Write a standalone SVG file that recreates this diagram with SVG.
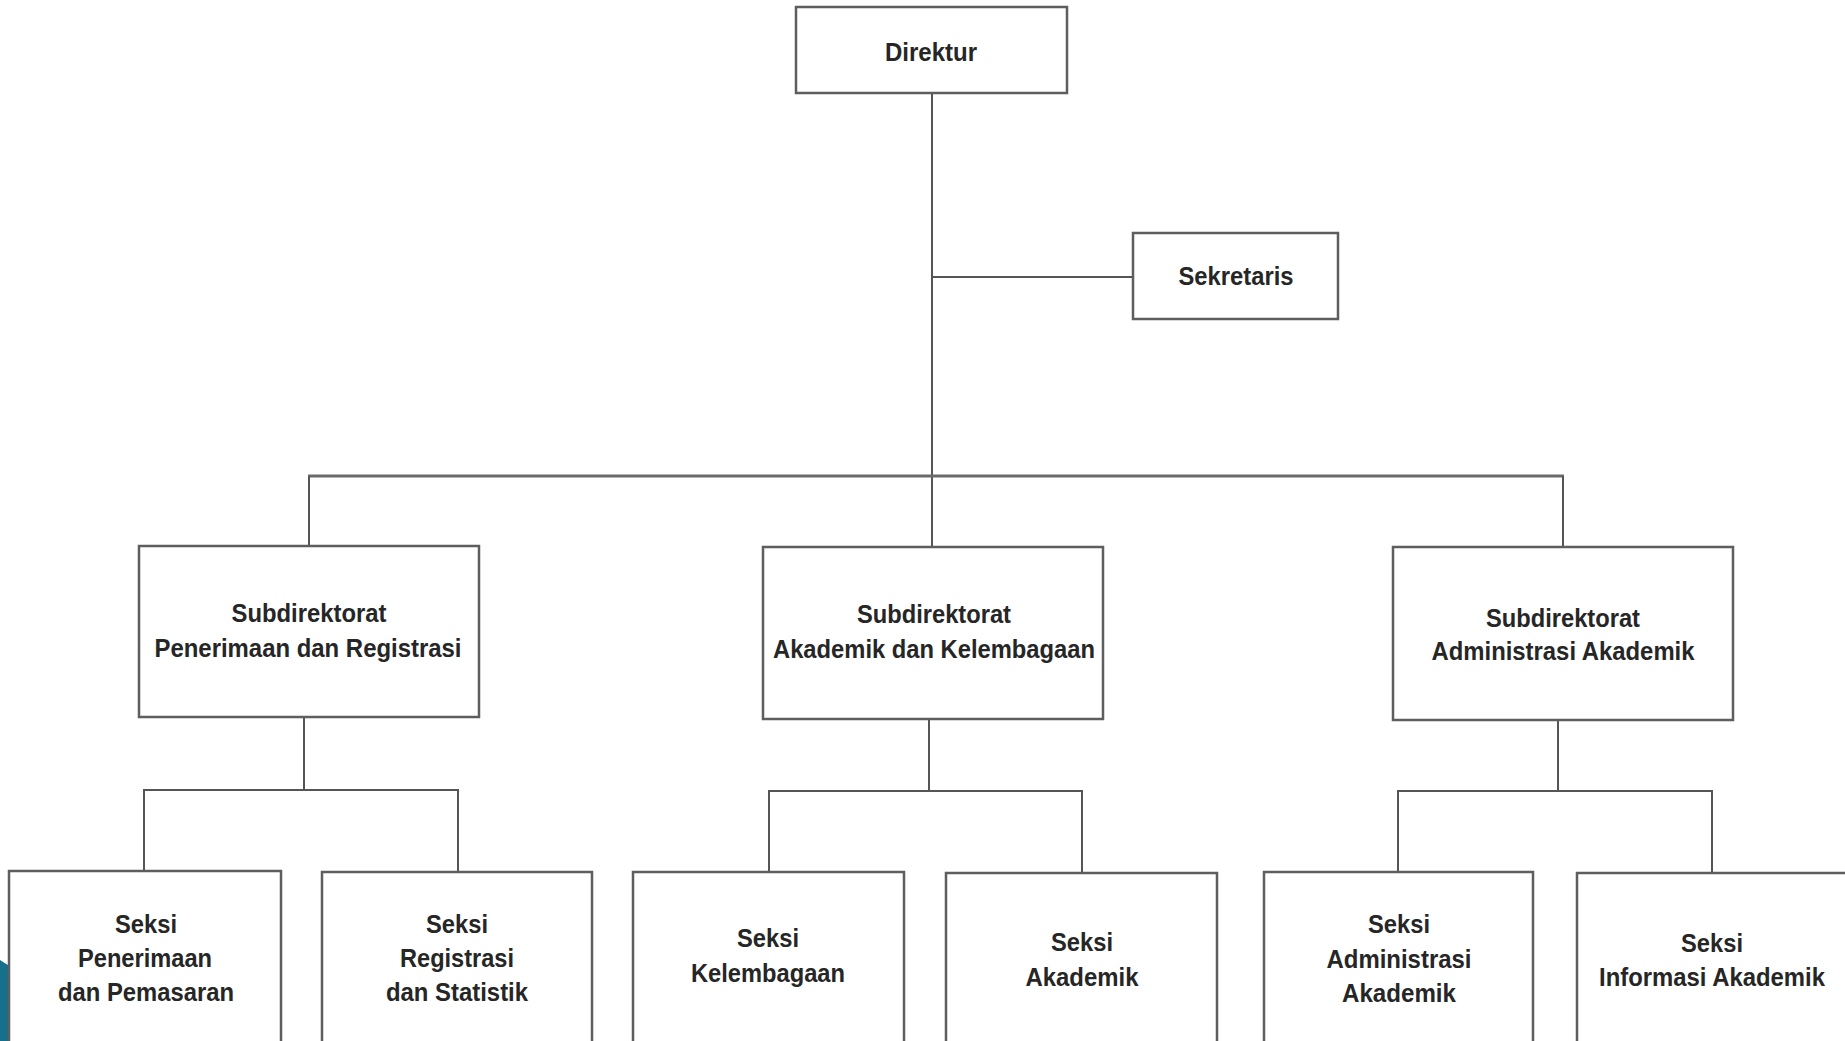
<svg xmlns="http://www.w3.org/2000/svg" width="1845" height="1041" viewBox="0 0 1845 1041">
  <style>
    .box { fill: #ffffff; stroke: #5e5e5e; stroke-width: 2.5; }
    .conn { stroke: #555555; stroke-width: 2; fill: none; }
    .bus { stroke: #6a6a6a; stroke-width: 3; fill: none; }
    .lbl { font-family: "Liberation Sans", Arial, sans-serif; font-weight: bold; font-size: 26px; fill: #262626; text-anchor: middle; }
  </style>
  <rect x="0" y="0" width="1845" height="1041" fill="#ffffff"/>
  <polygon points="0,960 11,967 11,1041 0,1041" fill="#17708a"/>

  <g id="connectors">
    <line class="conn" x1="932" y1="93" x2="932" y2="547"/>
    <line class="conn" x1="932" y1="277" x2="1133" y2="277"/>
    <line class="bus" x1="308" y1="476" x2="1564" y2="476"/>
    <line class="conn" x1="309" y1="476" x2="309" y2="546"/>
    <line class="conn" x1="1563" y1="476" x2="1563" y2="547"/>

    <line class="conn" x1="304" y1="718" x2="304" y2="790"/>
    <line class="conn" x1="143" y1="790" x2="459" y2="790"/>
    <line class="conn" x1="144" y1="790" x2="144" y2="871"/>
    <line class="conn" x1="458" y1="790" x2="458" y2="872"/>

    <line class="conn" x1="929" y1="719" x2="929" y2="791"/>
    <line class="conn" x1="768" y1="791" x2="1083" y2="791"/>
    <line class="conn" x1="769" y1="791" x2="769" y2="872"/>
    <line class="conn" x1="1082" y1="791" x2="1082" y2="873"/>

    <line class="conn" x1="1558" y1="720" x2="1558" y2="791"/>
    <line class="conn" x1="1397" y1="791" x2="1713" y2="791"/>
    <line class="conn" x1="1398" y1="791" x2="1398" y2="872"/>
    <line class="conn" x1="1712" y1="791" x2="1712" y2="873"/>
  </g>

  <g id="direktur">
    <rect class="box" x="796" y="7" width="271" height="86"/>
    <text class="lbl" x="931" y="61" textLength="92" lengthAdjust="spacingAndGlyphs">Direktur</text>
  </g>
  <g id="sekretaris">
    <rect class="box" x="1133" y="233" width="205" height="86"/>
    <text class="lbl" x="1236" y="285" textLength="115" lengthAdjust="spacingAndGlyphs">Sekretaris</text>
  </g>

  <g id="subdit-penerimaan">
    <rect class="box" x="139" y="546" width="340" height="171"/>
    <text class="lbl" x="309" y="622" textLength="155" lengthAdjust="spacingAndGlyphs">Subdirektorat</text>
    <text class="lbl" x="308" y="657" textLength="307" lengthAdjust="spacingAndGlyphs">Penerimaan dan Registrasi</text>
  </g>
  <g id="subdit-akademik">
    <rect class="box" x="763" y="547" width="340" height="172"/>
    <text class="lbl" x="934" y="623" textLength="154" lengthAdjust="spacingAndGlyphs">Subdirektorat</text>
    <text class="lbl" x="934" y="658" textLength="322" lengthAdjust="spacingAndGlyphs">Akademik dan Kelembagaan</text>
  </g>
  <g id="subdit-administrasi">
    <rect class="box" x="1393" y="547" width="340" height="173"/>
    <text class="lbl" x="1563" y="627" textLength="154" lengthAdjust="spacingAndGlyphs">Subdirektorat</text>
    <text class="lbl" x="1563" y="660" textLength="263" lengthAdjust="spacingAndGlyphs">Administrasi Akademik</text>
  </g>

  <g id="seksi-penerimaan">
    <rect class="box" x="9" y="871" width="272" height="200"/>
    <text class="lbl" x="146" y="933" textLength="62" lengthAdjust="spacingAndGlyphs">Seksi</text>
    <text class="lbl" x="145" y="967" textLength="134" lengthAdjust="spacingAndGlyphs">Penerimaan</text>
    <text class="lbl" x="146" y="1001" textLength="176" lengthAdjust="spacingAndGlyphs">dan Pemasaran</text>
  </g>
  <g id="seksi-registrasi">
    <rect class="box" x="322" y="872" width="270" height="200"/>
    <text class="lbl" x="457" y="933" textLength="62" lengthAdjust="spacingAndGlyphs">Seksi</text>
    <text class="lbl" x="457" y="967" textLength="114" lengthAdjust="spacingAndGlyphs">Registrasi</text>
    <text class="lbl" x="457" y="1001" textLength="142" lengthAdjust="spacingAndGlyphs">dan Statistik</text>
  </g>
  <g id="seksi-kelembagaan">
    <rect class="box" x="633" y="872" width="271" height="200"/>
    <text class="lbl" x="768" y="947" textLength="62" lengthAdjust="spacingAndGlyphs">Seksi</text>
    <text class="lbl" x="768" y="982" textLength="154" lengthAdjust="spacingAndGlyphs">Kelembagaan</text>
  </g>
  <g id="seksi-akademik">
    <rect class="box" x="946" y="873" width="271" height="200"/>
    <text class="lbl" x="1082" y="951" textLength="62" lengthAdjust="spacingAndGlyphs">Seksi</text>
    <text class="lbl" x="1082" y="986" textLength="113" lengthAdjust="spacingAndGlyphs">Akademik</text>
  </g>
  <g id="seksi-administrasi">
    <rect class="box" x="1264" y="872" width="269" height="200"/>
    <text class="lbl" x="1399" y="933" textLength="62" lengthAdjust="spacingAndGlyphs">Seksi</text>
    <text class="lbl" x="1399" y="968" textLength="145" lengthAdjust="spacingAndGlyphs">Administrasi</text>
    <text class="lbl" x="1399" y="1002" textLength="114" lengthAdjust="spacingAndGlyphs">Akademik</text>
  </g>
  <g id="seksi-informasi">
    <rect class="box" x="1577" y="873" width="270" height="200"/>
    <text class="lbl" x="1712" y="952" textLength="62" lengthAdjust="spacingAndGlyphs">Seksi</text>
    <text class="lbl" x="1712" y="986" textLength="226" lengthAdjust="spacingAndGlyphs">Informasi Akademik</text>
  </g>
</svg>
